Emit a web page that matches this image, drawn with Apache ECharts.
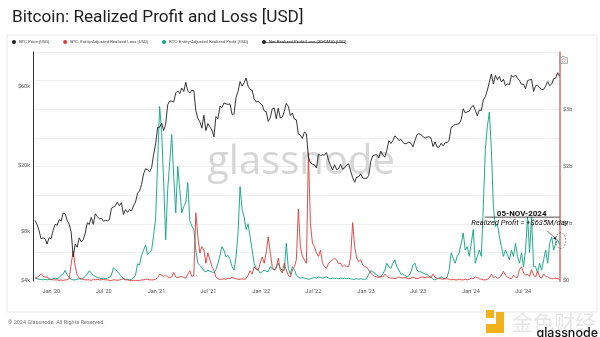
<!DOCTYPE html>
<html>
<head>
<meta charset="utf-8">
<script src="https://cdn.jsdelivr.net/npm/echarts@6/dist/echarts.min.js"></script>
<style>
html, body { margin: 0; padding: 0; background: #fff; }
#chart { width: 600px; height: 337px; }
</style>
</head>
<body>
<div id="chart"></div>
<script>
// Weekly samples, first one on 5 Nov 2019, last one on 5 Nov 2024
const weekStart = [2019, 10, 5];

const seriesNames = [
  'BTC Price [USD]',
  'BTC: Entity-Adjusted Realized Loss [USD]',
  'BTC: Entity-Adjusted Realized Profit [USD]',
  'Net Realized Profit/Loss (30-DMA) [USD]'
];

// BTC price, USD
const btcPrice = [
  9300, 8800, 8100, 7200, 7300, 7200, 6700, 7300, 7200, 8100,
  8800, 8700, 9400, 9200, 10300, 10200, 9300, 8800, 7900, 5600,
  6700, 6400, 7300, 6900, 7100, 7800, 9000, 8800, 9700, 8800,
  10200, 9800, 9500, 9600, 9200, 9300, 9250, 9400, 11000, 11200,
  11400, 12000, 11400, 11900, 10100, 10800, 10400, 10800, 10600, 11400,
  12000, 13600, 14000, 15300, 17800, 19100, 18800, 18300, 19400, 23200,
  27000, 34000, 34000, 36000, 32500, 35500, 46500, 49000, 48800, 48400,
  54800, 56400, 54300, 58800, 56000, 63500, 56400, 54800, 57000, 56700,
  42800, 38500, 36700, 33600, 40200, 32500, 35800, 34200, 32800, 29800,
  39500, 38200, 45600, 44700, 47700, 47100, 46800, 47100, 40700, 41000,
  51500, 56000, 64300, 60300, 63200, 67500, 60300, 57500, 57000, 50600,
  48400, 48900, 47500, 46400, 42700, 42300, 36900, 38700, 44000, 44500,
  38300, 44400, 38700, 39300, 42400, 47400, 45500, 40100, 41500, 38100,
  37700, 31000, 30500, 29100, 31800, 31100, 22500, 20700, 20300, 20200,
  19300, 23400, 22900, 23200, 23100, 23900, 21500, 20000, 18800, 20200,
  18900, 19100, 20300, 19000, 19300, 20100, 20500, 18500, 16900, 15800,
  17000, 17100, 17800, 16800, 16700, 16700, 17400, 21100, 22900, 23100,
  23200, 22200, 24400, 23100, 22400, 24700, 28200, 27100, 28200, 30200,
  29400, 28300, 28700, 27600, 27000, 27200, 27700, 27200, 25900, 28300,
  30700, 31100, 30600, 29900, 29200, 29700, 29800, 29200, 26000, 27700,
  25800, 25800, 27200, 26300, 27400, 27400, 28400, 34000, 34600, 35400,
  35500, 35800, 37800, 44000, 41500, 42200, 42500, 45000, 46100, 43100,
  39900, 43300, 43000, 49700, 52200, 57000, 63800, 71500, 62000, 70000,
  66000, 69000, 63800, 66400, 60600, 62400, 61500, 70100, 68300, 70500,
  67300, 65100, 61800, 62100, 58000, 65100, 65900, 66200, 56000, 60600,
  61000, 59400, 57400, 57600, 60300, 64300, 60800, 62100, 67000, 67400,
  72700, 69000
];

// Entity-adjusted realized loss, billion USD per day
const realizedLoss = [
  0.05, 0.06, 0.09, 0.12, 0.08, 0.07, 0.07, 0.04, 0.03, 0.02,
  0.02, 0.02, 0.01, 0.02, 0.01, 0.02, 0.02, 0.04, 0.30, 0.52,
  0.25, 0.10, 0.05, 0.04, 0.03, 0.02, 0.02, 0.02, 0.01, 0.03,
  0.02, 0.03, 0.02, 0.02, 0.03, 0.02, 0.02, 0.01, 0.01, 0.02,
  0.02, 0.01, 0.02, 0.03, 0.04, 0.02, 0.02, 0.01, 0.01, 0.01,
  0.01, 0.01, 0.01, 0.02, 0.02, 0.03, 0.03, 0.02, 0.02, 0.02,
  0.03, 0.06, 0.12, 0.10, 0.08, 0.10, 0.07, 0.06, 0.07, 0.15,
  0.07, 0.06, 0.07, 0.08, 0.06, 0.05, 0.12, 0.18, 0.08, 0.10,
  1.19, 0.77, 0.49, 0.60, 0.54, 0.31, 0.49, 0.37, 0.25, 0.19,
  0.07, 0.04, 0.03, 0.03, 0.04, 0.03, 0.05, 0.04, 0.07, 0.05,
  0.04, 0.03, 0.03, 0.04, 0.03, 0.04, 0.10, 0.18, 0.12, 0.25,
  0.20, 0.19, 0.31, 0.42, 0.31, 0.50, 0.77, 0.50, 0.25, 0.19,
  0.22, 0.40, 0.19, 0.14, 0.31, 0.19, 0.10, 0.07, 0.19, 0.25,
  0.37, 1.26, 0.60, 0.43, 0.37, 0.31, 2.24, 1.00, 0.66, 0.60,
  0.49, 0.43, 0.54, 0.31, 0.25, 0.22, 0.31, 0.34, 0.37, 0.40,
  0.37, 0.30, 0.31, 0.25, 0.28, 0.25, 0.25, 0.42, 1.02, 0.60,
  0.40, 0.34, 0.37, 0.28, 0.25, 0.24, 0.19, 0.14, 0.10, 0.08,
  0.07, 0.06, 0.08, 0.07, 0.12, 0.08, 0.06, 0.05, 0.05, 0.04,
  0.05, 0.07, 0.06, 0.05, 0.06, 0.05, 0.04, 0.05, 0.07, 0.05,
  0.04, 0.05, 0.07, 0.07, 0.06, 0.07, 0.07, 0.06, 0.12, 0.06,
  0.05, 0.04, 0.04, 0.03, 0.04, 0.04, 0.03, 0.02, 0.03, 0.02,
  0.02, 0.03, 0.02, 0.02, 0.03, 0.02, 0.03, 0.05, 0.04, 0.07,
  0.06, 0.04, 0.03, 0.02, 0.02, 0.03, 0.05, 0.12, 0.06, 0.08,
  0.05, 0.06, 0.10, 0.17, 0.10, 0.07, 0.05, 0.04, 0.10, 0.07,
  0.06, 0.20, 0.25, 0.14, 0.10, 0.12, 0.08, 0.20, 0.10, 0.07,
  0.17, 0.07, 0.05, 0.12, 0.08, 0.07, 0.05, 0.04, 0.04, 0.05,
  0.04, 0.03
];

// Entity-adjusted realized profit, billion USD per day
const realizedProfit = [
  0.05, 0.04, 0.03, 0.03, 0.02, 0.03, 0.02, 0.03, 0.02, 0.04,
  0.05, 0.04, 0.06, 0.10, 0.12, 0.19, 0.10, 0.06, 0.03, 0.02,
  0.02, 0.03, 0.04, 0.03, 0.05, 0.08, 0.12, 0.18, 0.14, 0.10,
  0.08, 0.06, 0.05, 0.04, 0.05, 0.04, 0.05, 0.06, 0.10, 0.23,
  0.20, 0.17, 0.12, 0.08, 0.04, 0.03, 0.03, 0.02, 0.03, 0.05,
  0.10, 0.30, 0.28, 0.45, 0.54, 0.63, 0.46, 0.50, 0.54, 0.80,
  1.10, 2.07, 3.05, 2.60, 1.72, 0.72, 1.60, 2.07, 2.56, 1.83,
  1.19, 2.00, 1.60, 1.19, 1.30, 1.37, 1.72, 1.05, 0.96, 0.90,
  0.54, 0.31, 0.27, 0.23, 0.18, 0.16, 0.19, 0.17, 0.16, 0.14,
  0.20, 0.31, 0.45, 0.60, 0.54, 0.42, 0.45, 0.38, 0.25, 0.19,
  0.42, 0.84, 1.65, 1.25, 1.12, 0.90, 1.00, 0.77, 0.54, 0.31,
  0.22, 0.19, 0.14, 0.16, 0.19, 0.17, 0.16, 0.25, 0.22, 0.19,
  0.25, 0.31, 0.22, 0.19, 0.19, 0.66, 0.22, 0.12, 0.25, 0.20,
  0.10, 0.07, 0.05, 0.06, 0.05, 0.04, 0.03, 0.04, 0.05, 0.06,
  0.05, 0.07, 0.06, 0.05, 0.06, 0.07, 0.05, 0.04, 0.05, 0.04,
  0.05, 0.04, 0.05, 0.04, 0.05, 0.04, 0.05, 0.04, 0.03, 0.03,
  0.04, 0.03, 0.04, 0.03, 0.03, 0.04, 0.12, 0.18, 0.16, 0.14,
  0.10, 0.08, 0.07, 0.12, 0.19, 0.31, 0.25, 0.22, 0.31, 0.37,
  0.25, 0.19, 0.12, 0.12, 0.10, 0.07, 0.09, 0.16, 0.28, 0.31,
  0.19, 0.16, 0.16, 0.14, 0.12, 0.12, 0.08, 0.07, 0.03, 0.02,
  0.04, 0.05, 0.07, 0.05, 0.04, 0.07, 0.19, 0.49, 0.40, 0.31,
  0.43, 0.49, 0.66, 0.84, 0.54, 0.60, 0.43, 0.66, 0.90, 0.31,
  0.43, 0.54, 0.43, 1.30, 2.30, 2.70, 2.95, 2.30, 1.30, 0.95,
  1.00, 0.77, 0.60, 0.43, 0.54, 0.46, 0.37, 0.54, 0.43, 0.66,
  0.43, 0.31, 0.49, 0.25, 0.54, 1.12, 0.50, 1.12, 0.25, 0.25,
  0.14, 0.31, 0.19, 0.37, 0.54, 0.31, 0.66, 0.77, 0.54, 0.66,
  0.72, 0.635
];

// 30-DMA net realized P/L series is switched off in the legend
const netRealized30d = [];

// Axis labels
const xTickDates = [
  [2020, 0], [2020, 6], [2021, 0], [2021, 6], [2022, 0], [2022, 6],
  [2023, 0], [2023, 6], [2024, 0], [2024, 6]
];
const priceTicks = [4000, 8000, 20000, 60000];
const pnlTicks = [0, 1, 2, 3];

const DAY = 86400000;
const t0 = Date.UTC(weekStart[0], weekStart[1], weekStart[2]);
const dates = btcPrice.map((_, i) => t0 + i * 7 * DAY);
const pair = arr => arr.map((v, i) => [dates[i], v]);

const MONTHS = ['Jan','Feb','Mar','Apr','May','Jun','Jul','Aug','Sep','Oct','Nov','Dec'];
const COL_PRICE = '#1f1f1f';
const COL_LOSS = '#e0393b';
const COL_PROFIT = '#17a589';
const FONT = 'Roboto, "Noto Sans", sans-serif';

const chart = echarts.init(document.getElementById('chart'), null, { renderer: 'canvas' });

const option = {
  animation: false,
  backgroundColor: '#ffffff',
  title: {
    text: 'Bitcoin: Realized Profit and Loss [USD]',
    left: 7, top: 4,
    textStyle: { fontSize: 17.2, fontWeight: 'normal', color: '#1d1d1d', fontFamily: FONT }
  },
  legend: {
    data: seriesNames,
    left: 12, top: 40,
    icon: 'circle', itemWidth: 4, itemHeight: 4, itemGap: 14,
    padding: 0,
    inactiveColor: '#222',
    selected: { [seriesNames[3]]: false },
    textStyle: { fontSize: 4.3, color: '#444', fontFamily: FONT, padding: [0, 0, 0, -2] }
  },
  toolbox: {
    right: 15, top: 39, itemSize: 8,
    iconStyle: { borderColor: '#999', borderWidth: 0.8 },
    feature: {
      saveAsImage: {
        title: '',
        icon: 'path://M2,5 L6,5 L7,3 L11,3 L12,5 L16,5 L16,15 L2,15 Z M9,7 A3,3 0 1,0 9.01,7 Z'
      }
    }
  },
  grid: { left: 33, right: 40, top: 52, bottom: 56 },
  xAxis: {
    type: 'value',
    min: Date.UTC(2019, 9, 29),
    max: Date.UTC(2024, 10, 6),
    axisLine: { show: false },
    axisTick: { show: false },
    splitLine: { show: false },
    axisLabel: {
      customValues: xTickDates.map(d => Date.UTC(d[0], d[1], 1)),
      formatter: v => {
        const d = new Date(v);
        return MONTHS[d.getUTCMonth()] + " '" + String(d.getUTCFullYear()).slice(2);
      },
      fontSize: 5.5, color: '#555', margin: 8, fontFamily: FONT
    }
  },
  yAxis: [
    {
      type: 'log', logBase: 10,
      min: 4000, max: 97000,
      position: 'left',
      axisLine: { show: true, lineStyle: { color: '#333', width: 1 } },
      axisTick: { show: false },
      splitLine: { show: false },
      axisLabel: {
        customValues: priceTicks,
        formatter: v => '$' + Math.round(v / 1000) + 'k',
        fontSize: 5.5, color: '#555', margin: 3, fontFamily: FONT
      }
    },
    {
      type: 'value',
      min: 0, max: 4, interval: 0.5,
      position: 'right',
      axisLine: { show: true, lineStyle: { color: '#d9706f', width: 1.5 } },
      axisTick: { show: false },
      splitLine: { show: true, lineStyle: { color: '#f0f0f0', width: 1 } },
      axisLabel: {
        formatter: v => (pnlTicks.indexOf(v) >= 0 ? (v === 0 ? '$0' : '$' + v + 'b') : ''),
        fontSize: 5.5, color: '#555', margin: 3, fontFamily: FONT
      }
    }
  ],
  series: [
    {
      name: seriesNames[0], type: 'line', yAxisIndex: 0, z: 5,
      data: pair(btcPrice), showSymbol: false,
      itemStyle: { color: COL_PRICE },
      lineStyle: { color: COL_PRICE, width: 0.9 }
    },
    {
      name: seriesNames[1], type: 'line', yAxisIndex: 1, z: 4,
      data: pair(realizedLoss), showSymbol: false,
      itemStyle: { color: COL_LOSS },
      lineStyle: { color: COL_LOSS, width: 0.9 }
    },
    {
      name: seriesNames[2], type: 'line', yAxisIndex: 1, z: 3,
      data: pair(realizedProfit), showSymbol: false,
      itemStyle: { color: COL_PROFIT },
      lineStyle: { color: COL_PROFIT, width: 0.95 }
    },
    {
      name: seriesNames[3], type: 'line', yAxisIndex: 1,
      data: pair(netRealized30d), showSymbol: false,
      itemStyle: { color: '#222' },
      lineStyle: { color: '#222', width: 1 }
    }
  ]
};
chart.setOption(option);

// Callout for the most recent realized profit reading
const lastIdx = realizedProfit.length - 1;
const lastVal = realizedProfit[lastIdx];
const lastDate = new Date(dates[lastIdx]);
const pt = chart.convertToPixel({ seriesIndex: 2 }, [dates[lastIdx], lastVal]);
const dateLabel = String(lastDate.getUTCDate()).padStart(2, '0') + '-' +
  MONTHS[lastDate.getUTCMonth()].toUpperCase() + '-' + lastDate.getUTCFullYear();
const valueLabel = 'Realized Profit = +$' + Math.round(lastVal * 1000) + 'M/day';

chart.setOption({
  graphic: [
    // panel frame
    { type: 'rect', z: -10, silent: true,
      shape: { x: 7, y: 35, width: 590, height: 277 },
      style: { fill: 'none', stroke: '#e8e8e8', lineWidth: 1 } },
    // watermark
    { type: 'text', z: 0, silent: true,
      style: { text: 'glassnode', x: 301, y: 163, align: 'center', verticalAlign: 'middle',
        font: '400 40px "Open Sans", sans-serif', fill: '#d6d6d6' } },
    // legend strike-through for the disabled series
    { type: 'line', z: 20, silent: true,
      shape: { x1: 262, y1: 42.5, x2: 345, y2: 42.5 },
      style: { stroke: '#222', lineWidth: 0.6 } },
    // footer
    { type: 'text', silent: true,
      style: { text: '\u00a9 2024 Glassnode. All Rights Reserved.', x: 8, y: 323,
        verticalAlign: 'middle', font: '5.5px Roboto, sans-serif', fill: '#777' } },
    // bottom-right badges
    { type: 'rect', silent: true, shape: { x: 486, y: 310, width: 8, height: 8 }, style: { fill: '#f2b21c' } },
    { type: 'rect', silent: true, shape: { x: 496, y: 312, width: 8, height: 21 }, style: { fill: '#f2b21c' } },
    { type: 'rect', silent: true, shape: { x: 486, y: 324, width: 18, height: 9 }, style: { fill: '#f2b21c' } },
    { type: 'text', silent: true,
      style: { text: '金色财经', x: 512, y: 322, verticalAlign: 'middle',
        font: '21px "Noto Sans CJK SC", sans-serif', fill: 'rgba(200,200,200,0.45)' } },
    { type: 'text', silent: true,
      style: { text: 'glassnode', x: 598, y: 333, align: 'right', verticalAlign: 'middle',
        font: '500 12.5px Inter, Roboto, sans-serif', fill: '#111' } },
    // callout
    { type: 'text', z: 30, silent: true,
      style: { text: dateLabel, x: pt[0] - 38, y: pt[1] - 31, align: 'center', verticalAlign: 'middle',
        font: 'bold 8px Roboto, sans-serif', fill: '#111' } },
    { type: 'line', z: 30, silent: true,
      shape: { x1: pt[0] - 75, y1: pt[1] - 27.5, x2: pt[0], y2: pt[1] - 27.5 },
      style: { stroke: '#222', lineWidth: 0.8 } },
    { type: 'text', z: 30, silent: true,
      style: { text: valueLabel, x: pt[0] - 40, y: pt[1] - 22, align: 'center', verticalAlign: 'middle',
        font: 'italic 7.6px Roboto, sans-serif', fill: '#111' } },
    { type: 'line', z: 30, silent: true,
      shape: { x1: pt[0] - 13, y1: pt[1] - 14, x2: pt[0] - 4, y2: pt[1] - 6 },
      style: { stroke: '#222', lineWidth: 0.6 } },
    { type: 'polygon', z: 30, silent: true,
      shape: { points: [[pt[0] - 3, pt[1] - 5], [pt[0] - 6.5, pt[1] - 6], [pt[0] - 4.5, pt[1] - 8.5]] },
      style: { fill: '#222' } },
    { type: 'ellipse', z: 30, silent: true,
      shape: { cx: pt[0] + 1, cy: pt[1] - 4, rx: 5, ry: 8 },
      style: { fill: 'none', stroke: '#333', lineWidth: 0.6, lineDash: [1.5, 1.5] } }
  ]
});
</script>
</body>
</html>
